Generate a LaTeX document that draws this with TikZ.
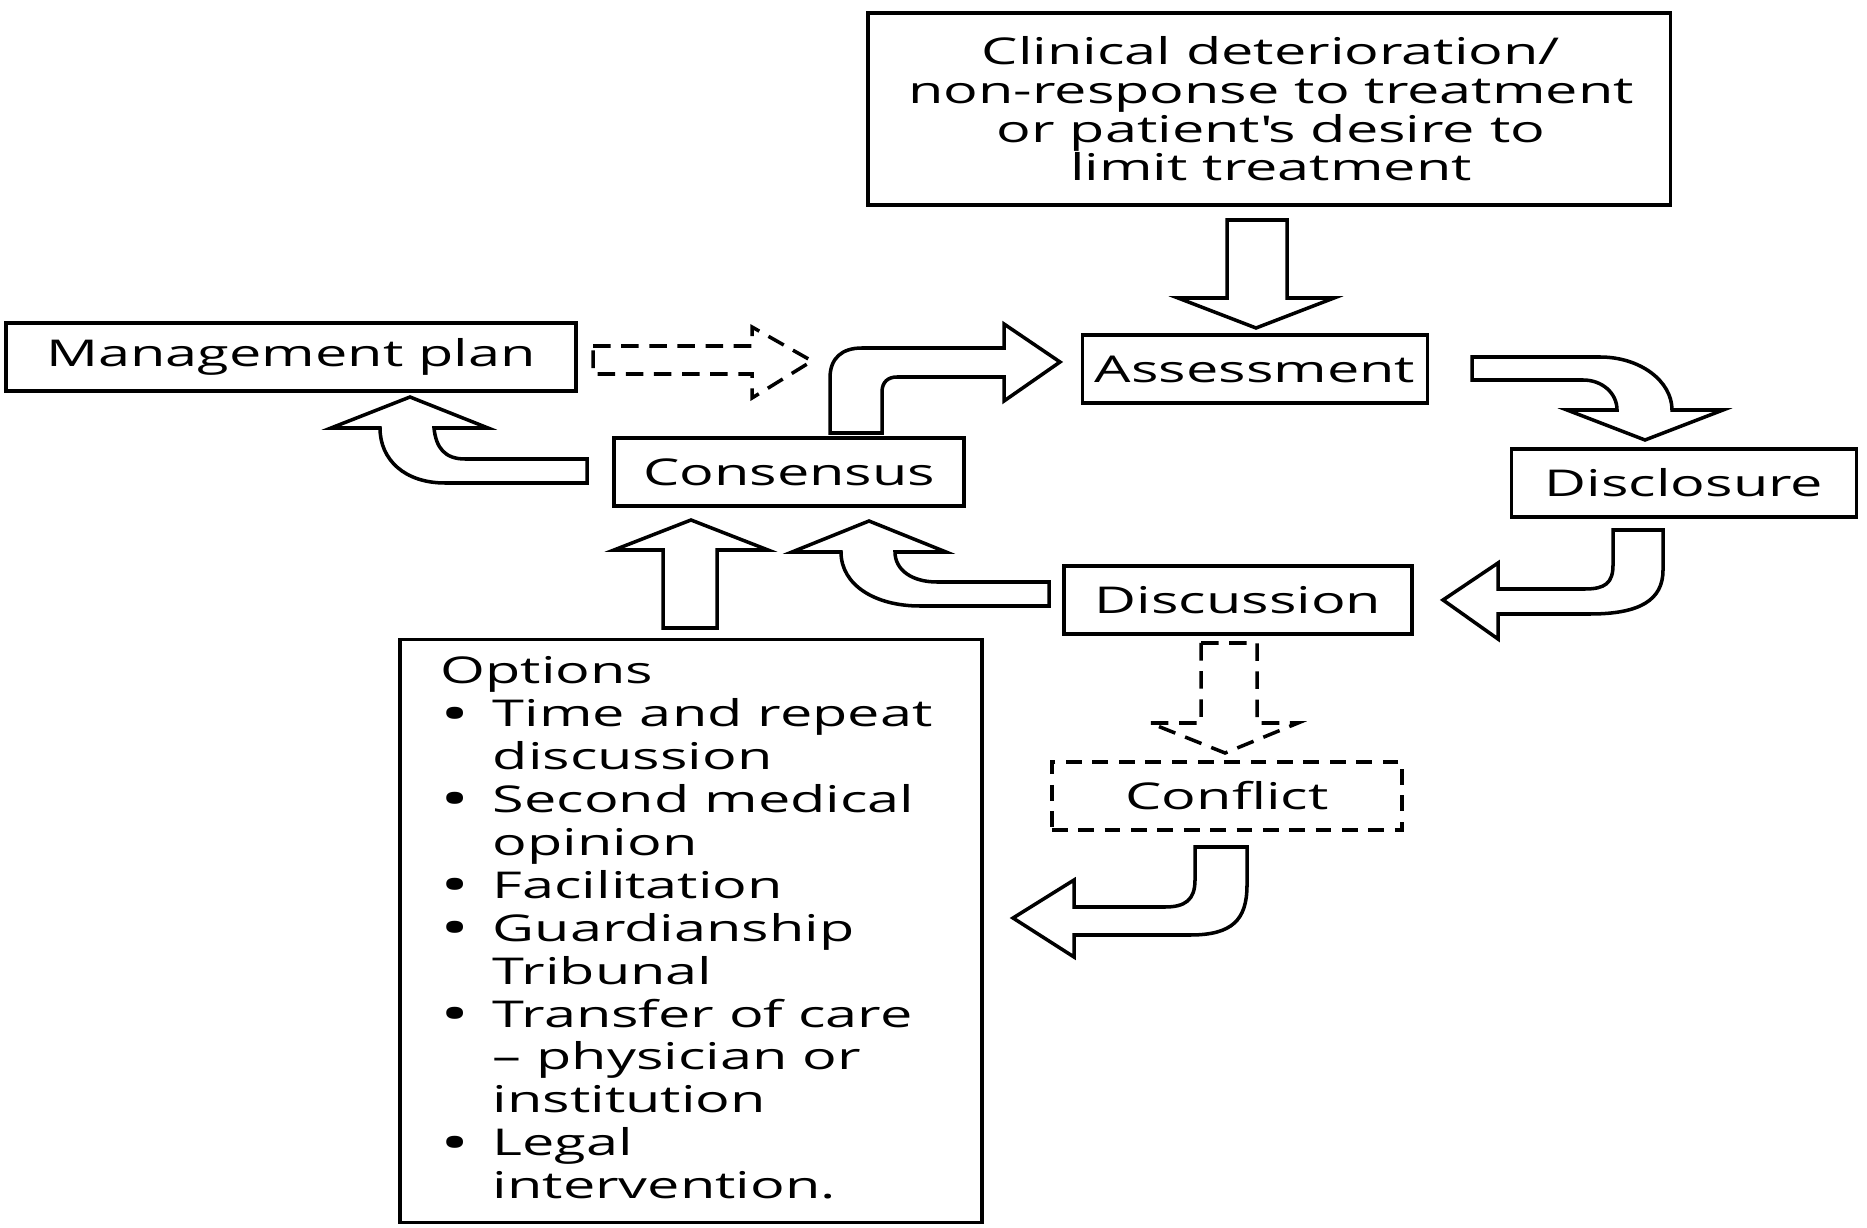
\documentclass[tikz,border=0pt]{standalone}
\usepackage{graphicx}
\usepackage{fontspec}
\setmainfont{Open Sans}[FakeStretch=1.56]
\tikzset{
  stage/.style={draw, line width=1pt, inner sep=0pt, minimum height=0.68cm},
  blockarrow/.style={draw, line width=1pt},
  dashedarrow/.style={blockarrow, dash pattern=on 5pt off 3pt}
}
\newcommand{\optbullet}{\makebox[0.52cm][l]{\raisebox{-0.12em}{\scalebox{1.35}{\textbullet}}}}
\newcommand{\optgap}{\hspace*{0.52cm}}

\begin{document}
\begin{tikzpicture}[x=0.01cm, y=-0.01cm, font=\fontsize{10.5}{11}\selectfont]
\useasboundingbox (0,0) rectangle (1867,1228);
% boxes
\node[stage, minimum width=8.02cm, minimum height=1.92cm] (cause) at (1269,109) {};
\node[align=center] (causetxt) at (1271,109) {Clinical deterioration/\\non-response to treatment\\or patient\textquotesingle s desire to\\limit treatment};
\node[stage, minimum width=3.45cm] (assess) at (1255,369) {Assessment};
\node[stage, minimum width=5.70cm] (mgmt) at (291,357) {Management plan};
\node[stage, minimum width=3.50cm] (cons) at (789,472) {Consensus};
\node[stage, minimum width=3.45cm] (discl) at (1684,483) {Disclosure};
\node[stage, minimum width=3.48cm] (disc) at (1238,600) {Discussion};
\node[stage, dash pattern=on 4.5pt off 3pt, minimum width=3.50cm] (confl) at (1227,796) {Conflict};
\node[stage, minimum width=5.82cm, minimum height=5.83cm] (opts) at (691,931) {};
\node[anchor=north west, align=left, inner sep=0pt, font=\fontsize{10.5}{12.2}\selectfont] (optstxt) at (440,656) {Options\\
\optbullet Time and repeat\\ \optgap discussion\\
\optbullet Second medical\\ \optgap opinion\\
\optbullet Facilitation\\
\optbullet Guardianship\\ \optgap Tribunal\\
\optbullet Transfer of care\\ \optgap -- physician or\\ \optgap institution\\
\optbullet Legal\\ \optgap intervention.};
% arrows
\draw[blockarrow] (1227,220) -- (1287,220) -- (1287,298) -- (1334,298) -- (1256,328) -- (1178,298) -- (1227,298) -- cycle;
\draw[blockarrow] (830,433) -- (830,378) .. controls (830,358) and (842,348) .. (862,348) -- (1004,348) -- (1004,324) -- (1060,362) -- (1004,401) -- (1004,377) -- (897,377) .. controls (888,377) and (882,382) .. (882,392) -- (882,433) -- cycle;
\draw[blockarrow] (1472,357) -- (1600,357) .. controls (1640,357) and (1672,381) .. (1672,410) -- (1723,410) -- (1645,440) -- (1567,410) -- (1617,410) .. controls (1617,393) and (1602,380) .. (1583,380) -- (1472,380) -- cycle;
\draw[blockarrow] (1613,530) -- (1663,530) -- (1663,570) .. controls (1663,600) and (1640,614) .. (1590,614) -- (1498,614) -- (1498,639) -- (1443,600) -- (1498,563) -- (1498,589) -- (1585,589) .. controls (1605,589) and (1613,583) .. (1613,565) -- cycle;
\draw[blockarrow] (1049,582) -- (1049,606) -- (920,606) .. controls (875,606) and (841,585) .. (841,552) -- (792,552) -- (869,521) -- (946,552) -- (895,552) .. controls (895,570) and (912,582) .. (937,582) -- cycle;
\draw[blockarrow] (587,459) -- (587,483) -- (445,483) .. controls (405,483) and (380,460) .. (380,428) -- (331,428) -- (410,397) -- (488,428) -- (434,428) .. controls (436,448) and (445,459) .. (465,459) -- cycle;
\draw[blockarrow] (663,628) -- (663,550) -- (614,550) -- (691,520) -- (768,550) -- (717,550) -- (717,628) -- cycle;
\draw[dashedarrow] (593,346) -- (752,346) -- (752,327) -- (812,361) -- (752,398) -- (752,374) -- (593,374) -- cycle;
\draw[dashedarrow] (1201,643) -- (1257,643) -- (1257,723) -- (1298,723) -- (1225,753) -- (1150,723) -- (1201,723) -- cycle;
\draw[blockarrow] (1195,847) -- (1247,847) -- (1247,885) .. controls (1247,920) and (1232,935) .. (1190,935) -- (1074,935) -- (1074,957) -- (1013,918) -- (1074,880) -- (1074,907) -- (1165,907) .. controls (1185,907) and (1195,900) .. (1195,880) -- cycle;
\end{tikzpicture}
\end{document}
